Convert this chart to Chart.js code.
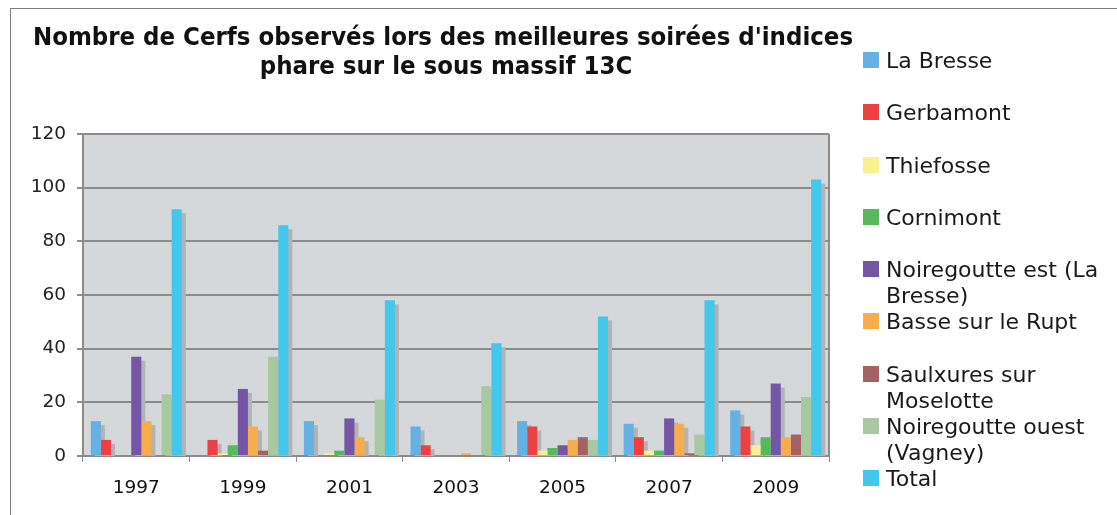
<!DOCTYPE html>
<html><head><meta charset="utf-8">
<script src="https://cdn.jsdelivr.net/npm/chart.js@4.4.0/dist/chart.umd.min.js"></script>
<style>
html,body{margin:0;padding:0;background:#fff;overflow:hidden}
#wrap{position:relative;width:1117px;height:515px;overflow:hidden}
#frame{position:absolute;left:10px;top:8px;width:1200px;height:600px;border-top:1px solid #7d7d7d;border-left:1px solid #7d7d7d}
canvas{position:absolute;left:0;top:0}
#legend{position:absolute;left:863px;top:48px;font-family:"DejaVu Sans",Verdana,sans-serif;font-size:22px;color:#1a1a1a}
.item{position:relative;height:52.25px;padding-left:23px;line-height:26.1px;width:225px}
.sw{position:absolute;left:0;top:4px;width:16px;height:16px}
</style>
</head><body>
<div id="wrap">
<div id="frame"></div>
<canvas id="c" width="1117" height="515"></canvas>
<div id="legend"></div>
</div>
<script>
const titleLines = ["Nombre de Cerfs observés lors des meilleures soirées d'indices", "phare sur le sous massif 13C"];
const categories = ['1997','1999','2001','2003','2005','2007','2009'];
const seriesNames = ['La Bresse','Gerbamont','Thiefosse','Cornimont','Noiregoutte est (La Bresse)','Basse sur le Rupt','Saulxures sur Moselotte','Noiregoutte ouest (Vagney)','Total'];
const laBresse         = [13, 0, 13, 11, 13, 12, 17];
const gerbamont        = [6, 6, 0, 4, 11, 7, 11];
const thiefosse        = [0, 1, 1, 0, 2, 2, 4];
const cornimont        = [0, 4, 2, 0, 3, 2, 7];
const noiregoutteEst   = [37, 25, 14, 0, 4, 14, 27];
const basseSurLeRupt   = [13, 11, 7, 1, 6, 12, 7];
const saulxures        = [0, 2, 0, 0, 7, 1, 8];
const noiregoutteOuest = [23, 37, 21, 26, 6, 8, 22];
const total            = [92, 86, 58, 42, 52, 58, 103];
const yTicks = [0, 20, 40, 60, 80, 100, 120];

const seriesValues = [laBresse, gerbamont, thiefosse, cornimont, noiregoutteEst, basseSurLeRupt, saulxures, noiregoutteOuest, total];
const colors = ['#66b1e3','#ef4041','#f7f18f','#56b95b','#7555a5','#f8ad4d','#a56265','#a8c8a2','#44c7ed'];

const FONT = '"DejaVu Sans", Verdana, sans-serif';

const datasets = seriesNames.map((n, i) => ({
  label: n, data: seriesValues[i], backgroundColor: colors[i], borderWidth: 0,
  categoryPercentage: 0.854, barPercentage: 1.0
}));

const bgPlugin = {
  id: 'bg',
  beforeDraw(chart) {
    const {ctx, chartArea: a} = chart;
    ctx.save(); ctx.fillStyle = '#d5d8db';
    ctx.fillRect(a.left, a.top, a.right - a.left, a.bottom - a.top);
    ctx.restore();
  },
  beforeDatasetsDraw(chart) {
    const {ctx, chartArea: a} = chart;
    ctx.save();
    ctx.beginPath(); ctx.rect(a.left, a.top, a.right - a.left, a.bottom - a.top); ctx.clip();
    ctx.fillStyle = '#b3b3b3';
    chart.data.datasets.forEach((ds, i) => {
      chart.getDatasetMeta(i).data.forEach(bar => {
        const p = bar.getProps(['x','y','base','width'], true);
        if (p.base - p.y < 0.5) return;
        ctx.fillRect(p.x - p.width / 2 + 4, p.y + 4, p.width, p.base - p.y);
      });
    });
    ctx.restore();
  },
  afterDraw(chart) {
    const {ctx, chartArea: a} = chart;
    ctx.save();
    ctx.strokeStyle = '#8b8b8b'; ctx.lineWidth = 2;
    ctx.beginPath(); ctx.moveTo(a.right, a.top); ctx.lineTo(a.right, a.bottom); ctx.stroke();
    ctx.fillStyle = '#111';
    ctx.font = 'bold 25.5px "DejaVu Sans Condensed", ' + FONT;
    ctx.textAlign = 'center'; ctx.textBaseline = 'middle';
    ctx.fillText(titleLines[0], 443, 38);
    ctx.fillText(titleLines[1], 446, 67);
    ctx.restore();
  }
};

new Chart(document.getElementById('c'), {
  type: 'bar',
  data: { labels: categories, datasets },
  options: {
    responsive: false, animation: false, devicePixelRatio: 1,
    layout: { padding: { left: 0, right: 288, top: 134, bottom: 0 } },
    plugins: { legend: { display: false }, tooltip: { enabled: false }, title: { display: false } },
    scales: {
      x: {
        grid: { offset: true, drawOnChartArea: false, drawTicks: true, tickLength: 6, color: '#8b8b8b', lineWidth: 1 },
        border: { color: '#8b8b8b', width: 2 },
        ticks: { font: { family: FONT, size: 18.5 }, color: '#111', padding: 15 },
        afterFit(s) { s.height = 59; }
      },
      y: {
        min: 0, max: 120,
        afterBuildTicks(s) { s.ticks = yTicks.map(v => ({ value: v })); },
        grid: { color: '#8b8b8b', lineWidth: 2, tickLength: 6 },
        border: { color: '#8b8b8b', width: 2 },
        ticks: { font: { family: FONT, size: 18.5 }, color: '#222', padding: 11 },
        afterFit(s) { s.width = 83; }
      }
    }
  },
  plugins: [bgPlugin]
});

const leg = document.getElementById('legend');
seriesNames.forEach((n, i) => {
  const d = document.createElement('div'); d.className = 'item';
  const s = document.createElement('span'); s.className = 'sw'; s.style.background = colors[i];
  d.appendChild(s); d.appendChild(document.createTextNode(n));
  leg.appendChild(d);
});
</script>
</body></html>
